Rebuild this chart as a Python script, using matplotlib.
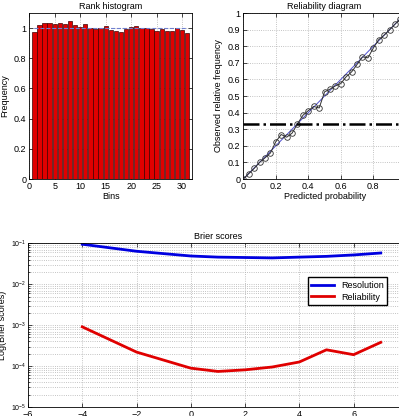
import numpy as np
import matplotlib.pyplot as plt
from matplotlib.ticker import LogLocator, FixedFormatter

plt.rcParams['font.family'] = ['Liberation Sans', 'DejaVu Sans']
plt.rcParams['font.size'] = 6.5
plt.rcParams['mathtext.fontset'] = 'custom'
plt.rcParams['mathtext.rm'] = 'Liberation Sans'

# rank histogram
bins = list(range(1, 32))
freq = [0.971, 1.020, 1.031, 1.033, 1.026, 1.031, 1.026, 1.046, 1.022, 1.009,
        1.024, 1.004, 0.993, 1.000, 1.015, 0.985, 0.980, 0.976, 0.993, 1.009,
        1.013, 1.004, 1.000, 0.991, 0.980, 0.991, 0.978, 0.982, 0.998, 0.987,
        0.969]

# reliability diagram
pred_prob = [0.0, 0.033, 0.067, 0.1, 0.133, 0.167, 0.2, 0.233, 0.267, 0.3,
             0.333, 0.367, 0.4, 0.433, 0.467, 0.5, 0.533, 0.567, 0.6, 0.633,
             0.667, 0.7, 0.733, 0.767, 0.8, 0.833, 0.867, 0.9, 0.933, 0.967, 1.0]
obs_freq = [0.0, 0.032, 0.064, 0.100, 0.127, 0.157, 0.225, 0.268, 0.252, 0.276,
            0.332, 0.384, 0.412, 0.437, 0.428, 0.525, 0.541, 0.561, 0.575, 0.616,
            0.646, 0.690, 0.736, 0.730, 0.789, 0.839, 0.867, 0.899, 0.932, 0.966, 1.0]
climatology = 0.333

# brier scores
lead = [-4, -2, 0, 1, 2, 3, 4, 5, 6, 7]
resolution = [0.095, 0.064, 0.049, 0.046, 0.045, 0.044, 0.046, 0.048, 0.052, 0.058]
reliability = [9.1e-4, 2.2e-4, 8.9e-5, 7.4e-5, 8.1e-5, 9.5e-5, 1.26e-4, 2.5e-4, 1.9e-4, 3.8e-4]
decades = [1e-5, 1e-4, 1e-3, 1e-2, 1e-1]
decade_labels = [r'$10^{-5}$', r'$10^{-4}$', r'$10^{-3}$', r'$10^{-2}$', r'$10^{-1}$']

fig = plt.figure(figsize=(3.99, 4.16), dpi=100)

grid_kw = dict(color='#b0b0b0', linestyle=':', linewidth=0.6)

ax1 = fig.add_axes([0.0734, 0.5697, 0.4085, 0.399])
ax1.bar(bins, freq, width=0.85, color='#e00000', edgecolor='#400000', linewidth=0.5, zorder=2)
ax1.plot([1, 31], [1, 1], '--', color='#7080d0', linewidth=0.8, zorder=3)
ax1.set_xlim(0, 32)
ax1.set_ylim(0, 1.1)
ax1.set_xticks([0, 5, 10, 15, 20, 25, 30])
ax1.set_yticks([0, 0.2, 0.4, 0.6, 0.8, 1])
ax1.set_yticklabels(['0', '0.2', '0.4', '0.6', '0.8', '1'])
ax1.grid(True, **grid_kw)
ax1.set_title('Rank histogram', fontsize=6.5, pad=3)
ax1.set_xlabel('Bins', labelpad=1)
ax1.set_ylabel('Frequency')
ax1.yaxis.set_label_coords(-0.12, 0.5)

ax2 = fig.add_axes([0.6098, 0.5697, 0.4073, 0.399])
ax2.plot([0, 1], [0, 1], color='#5050d0', linewidth=0.7, zorder=2)
ax2.plot(pred_prob, obs_freq, '-o', color='#303030', markerfacecolor='none',
         markersize=4, markeredgewidth=0.6, linewidth=0.7, zorder=3)
ax2.axhline(climatology, color='black', linestyle='-.', linewidth=1.8, zorder=4)
ax2.set_xlim(0, 1)
ax2.set_ylim(0, 1)
ax2.set_xticks([0, 0.2, 0.4, 0.6, 0.8, 1])
ax2.set_xticklabels(['0', '0.2', '0.4', '0.6', '0.8', '1'])
ax2.set_yticks(np.arange(0, 1.01, 0.1))
ax2.set_yticklabels(['0', '0.1', '0.2', '0.3', '0.4', '0.5', '0.6', '0.7', '0.8', '0.9', '1'])
ax2.grid(True, **grid_kw)
ax2.set_title('Reliability diagram', fontsize=6.5, pad=3)
ax2.set_xlabel('Predicted probability', labelpad=1)
ax2.set_ylabel('Observed relative frequency')
ax2.yaxis.set_label_coords(-0.125, 0.5)

ax3 = fig.add_axes([0.0702, 0.0216, 0.952, 0.3935])
ax3.semilogy(lead, resolution, color='#0000e0', linewidth=2, label='Resolution')
ax3.semilogy(lead, reliability, color='#e00000', linewidth=2, label='Reliability')
ax3.set_xlim(-6, 8)
ax3.set_ylim(1e-5, 1e-1)
ax3.set_xticks([-6, -4, -2, 0, 2, 4, 6, 8])
ax3.set_yticks(decades)
ax3.set_yticklabels(decade_labels, fontsize=5)
ax3.yaxis.set_minor_locator(LogLocator(base=10, subs=np.arange(2, 10), numticks=10))
ax3.grid(True, which='major', **grid_kw)
ax3.grid(True, which='minor', **grid_kw)
ax3.set_title('Brier scores', fontsize=6.5, pad=3)
ax3.set_ylabel('Log(Brier scores)')
ax3.yaxis.set_label_coords(-0.055, 0.5)
ax3.legend(loc='upper right', bbox_to_anchor=(0.958, 0.82), fontsize=6.5,
           fancybox=False, edgecolor='black', framealpha=1, handlelength=2.5,
           borderpad=0.4, labelspacing=0.3)

for ax in (ax1, ax2, ax3):
    ax.tick_params(which='both', direction='in', top=True, right=True,
                   length=3, width=0.5, pad=2)
    ax.tick_params(which='minor', length=1.5)
    for s in ax.spines.values():
        s.set_linewidth(0.6)
ax3.tick_params(axis='y', which='major', pad=1)
ax3.yaxis.set_minor_formatter(FixedFormatter([]))

fig.savefig('out.png', dpi=100)
